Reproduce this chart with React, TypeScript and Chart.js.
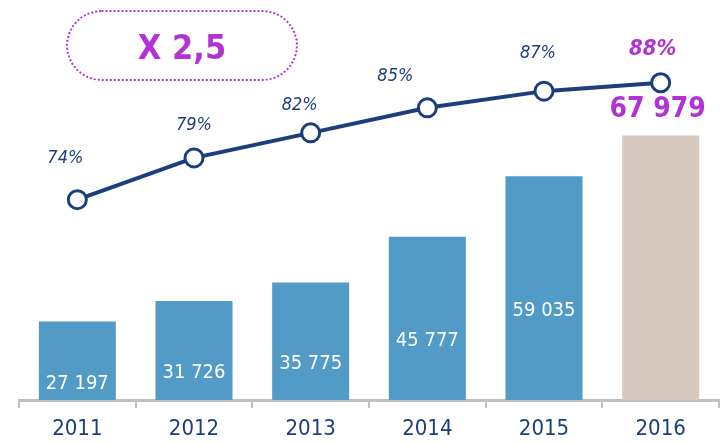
import React, { useEffect, useRef } from "react";
import { Chart, registerables } from "chart.js";

Chart.register(...registerables);

const years = ["2011", "2012", "2013", "2014", "2015", "2016"];
const volumes = [27197, 31726, 35775, 45777, 59035, 67979];
const shares = [74, 79, 82, 85, 87, 88];
const volumeLabels = ["27 197", "31 726", "35 775", "45 777", "59 035", "67 979"];
const shareLabels = ["74%", "79%", "82%", "85%", "87%", "88%"];
const multiplierText = "X 2,5";

const FONT = '"DejaVu Sans Condensed", "DejaVu Sans", sans-serif';
const NAVY = "#1c3f7c";
const PURPLE = "#b233d3";
const BLUE = "#519bc6";
const BEIGE = "#d6cabf";
// label offsets relative to points (dx, dy)
const shareOffsets = [
  [-12, -41],
  [0, -33],
  [-11, -28],
  [-32, -31],
  [-6, -38],
  [-8, -34],
];

const labelPlugin = {
  id: "labels",
  afterDatasetsDraw(chart: any) {
    const ctx = chart.ctx;
    const last = volumes.length - 1;
    ctx.save();
    const barMeta = chart.getDatasetMeta(0);
    barMeta.data.forEach((bar: any, i: number) => {
      ctx.textAlign = "center";
      ctx.textBaseline = "middle";
      if (i === last) {
        ctx.font = `bold 28px ${FONT}`;
        ctx.fillStyle = PURPLE;
        ctx.fillText(volumeLabels[i], bar.x - 3, bar.y - 26);
      } else {
        ctx.font = `20px ${FONT}`;
        ctx.fillStyle = "#ffffff";
        ctx.fillText(volumeLabels[i], bar.x, (bar.y + bar.base) / 2);
      }
    });
    const lineMeta = chart.getDatasetMeta(1);
    lineMeta.data.forEach((pt: any, i: number) => {
      const [dx, dy] = shareOffsets[i];
      if (i === last) {
        ctx.font = `italic bold 22px ${FONT}`;
        ctx.fillStyle = PURPLE;
      } else {
        ctx.font = `italic 18px ${FONT}`;
        ctx.fillStyle = NAVY;
      }
      ctx.textAlign = "center";
      ctx.textBaseline = "middle";
      ctx.fillText(shareLabels[i], pt.x + dx, pt.y + dy);
    });
    // category labels under the axis
    const xs = chart.scales.x;
    ctx.font = `22px ${FONT}`;
    ctx.fillStyle = NAVY;
    ctx.textAlign = "center";
    ctx.textBaseline = "middle";
    years.forEach((y, i) => {
      ctx.fillText(y, xs.getPixelForValue(i), xs.top + 29);
    });
    ctx.restore();
  },
};

export default function App() {
  const canvasRef = useRef<HTMLCanvasElement | null>(null);

  useEffect(() => {
    if (!canvasRef.current) return;
    const chart = new Chart(canvasRef.current, {
      type: "bar",
      data: {
        labels: years,
        datasets: [
          {
            type: "bar",
            data: volumes,
            backgroundColor: volumes.map((_, i) => (i === volumes.length - 1 ? BEIGE : BLUE)),
            barPercentage: 0.66,
            categoryPercentage: 1,
            yAxisID: "y",
            order: 2,
          } as any,
          {
            type: "line",
            data: shares,
            borderColor: NAVY,
            borderWidth: 4,
            pointRadius: 9,
            pointHoverRadius: 9,
            pointBackgroundColor: "#ffffff",
            pointBorderColor: NAVY,
            pointBorderWidth: 3,
            tension: 0,
            yAxisID: "y2",
            order: 1,
          } as any,
        ],
      },
      options: {
        animation: false,
        responsive: false,
        maintainAspectRatio: false,
        layout: { autoPadding: false, padding: { top: 16, left: 19, right: 2, bottom: 0 } },
        plugins: {
          legend: { display: false },
          tooltip: { enabled: false },
        },
        scales: {
          x: {
            offset: true,
            grid: {
              display: true,
              offset: true,
              drawOnChartArea: false,
              drawTicks: true,
              tickLength: 8,
              color: "#bfbfbf",
              lineWidth: 2,
            },
            border: { display: true, color: "#bfbfbf", width: 3 },
            ticks: { display: false },
            afterFit: (scale: any) => {
              scale.height = 42;
            },
          },
          y: { display: false, min: 10000, max: 94200 },
          y2: { display: false, min: 50, max: 96 },
        },
      },
      plugins: [labelPlugin],
    });
    return () => chart.destroy();
  }, []);

  return (
    <div style={{ position: "fixed", left: 0, top: 0, width: 721, height: 442, background: "#fff" }}>
      <canvas ref={canvasRef} width={721} height={442} style={{ position: "absolute", left: 0, top: 0 }} />
      <div
        style={{
          position: "absolute",
          left: 66,
          top: 10,
          width: 232,
          height: 71,
          border: `2px dotted ${PURPLE}`,
          borderRadius: 36,
          display: "flex",
          alignItems: "center",
          justifyContent: "center",
          color: PURPLE,
          fontFamily: FONT,
          fontWeight: "bold",
          fontSize: 34,
          paddingTop: 2,
          boxSizing: "border-box",
        }}
      >
        {multiplierText}
      </div>
    </div>
  );
}
